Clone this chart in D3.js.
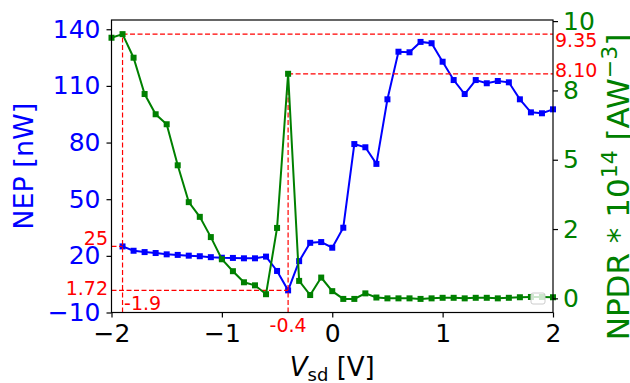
<!DOCTYPE html>
<html>
<head>
<meta charset="utf-8">
<script src="https://cdn.jsdelivr.net/npm/d3@7"></script>
<style>
  body { margin: 0; background: #fff; }
  text { font-family: "DejaVu Sans", sans-serif; }
</style>
</head>
<body>
<div id="chart"></div>
<script>
// NEP (left axis) and NPDR (right axis) vs source-drain voltage

var nepVsd = [-1.9, -1.8, -1.7, -1.6, -1.5, -1.4, -1.3, -1.2, -1.1, -1.0,
  -0.9, -0.8, -0.7, -0.6, -0.5, -0.4, -0.3, -0.2, -0.1, 0.0,
  0.1, 0.2, 0.3, 0.4, 0.5, 0.6, 0.7, 0.8, 0.9, 1.0,
  1.1, 1.2, 1.3, 1.4, 1.5, 1.6, 1.7, 1.8, 1.9, 2.0];
var nepValues = [25, 22.7, 22.0, 21.5, 20.8, 20.5, 20.1, 19.8, 19.3, 19.0,
  18.9, 18.7, 18.7, 19.6, 12.0, 1.72, 17.2, 26.9, 27.3, 24.3,
  34.9, 79.2, 77.5, 68.7, 102.9, 128.1, 127.8, 133.3, 132.6, 122.8,
  113.1, 105.7, 113.1, 111.4, 112.6, 111.9, 102.9, 96.0, 95.5, 97.6];

var npdrVsd = [-2.0, -1.9, -1.8, -1.7, -1.6, -1.5, -1.4, -1.3, -1.2, -1.1, -1.0,
  -0.9, -0.8, -0.7, -0.6, -0.5, -0.4, -0.3, -0.2, -0.1, 0.0,
  0.1, 0.2, 0.3, 0.4, 0.5, 0.6, 0.7, 0.8, 0.9, 1.0,
  1.1, 1.2, 1.3, 1.4, 1.5, 1.6, 1.7, 1.8, 1.9, 2.0];
var npdrValues = [9.40, 9.53, 8.68, 7.37, 6.64, 6.28, 4.80, 3.47, 2.94, 2.21, 1.41,
  0.98, 0.58, 0.47, 0.15, 2.54, 8.10, 0.63, 0.12, 0.75, 0.26,
  -0.02, -0.02, 0.18, 0.03, 0.0, 0.0, 0.0, -0.02, 0.0, 0.02,
  0.02, 0.0, 0.02, 0.02, 0.0, 0.02, 0.04, 0.05, 0.05, 0.04];

var xTicks = [-2, -1, 0, 1, 2];
var leftTicks = [-10, 20, 50, 80, 110, 140];
var rightTicks = [0, 2.5, 5, 7.5, 10];
var rightTickLabels = ["0", "2", "5", "8", "10"];

// marked points: [vsd, label]
var nepMarks = [[-1.9, "25"], [-0.4, "1.72"]];
var npdrMarks = [[-1.9, "9.35"], [-0.4, "8.10"]];

var W = 630, H = 383;
var plotL = 111.5, plotR = 553, plotT = 20, plotB = 312.5;

var svg = d3.select("#chart").append("svg")
  .attr("width", W).attr("height", H);

var x = d3.scaleLinear().domain([-2, 2]).range([plotL, plotR]);
var yL = d3.scaleLinear().domain([-10, 144.9]).range([plotB, plotT]);
var yR = d3.scaleLinear().domain([-0.51, 10.04]).range([plotB, plotT]);

var nep = nepVsd.map(function(v, i) { return {x: v, y: nepValues[i]}; });
var npdr = npdrVsd.map(function(v, i) { return {x: v, y: npdrValues[i]}; });
function nepAt(v) { return nep.find(function(d) { return Math.abs(d.x - v) < 1e-6; }).y; }
function npdrAt(v) { return npdr.find(function(d) { return Math.abs(d.x - v) < 1e-6; }).y; }

// blue NEP line
var lineL = d3.line().x(function(d) { return x(d.x); }).y(function(d) { return yL(d.y); });
svg.append("path").datum(nep)
  .attr("d", lineL).attr("fill", "none")
  .attr("stroke", "blue").attr("stroke-width", 2);
svg.selectAll(".mL").data(nep).enter().append("rect")
  .attr("x", function(d) { return x(d.x) - 3; })
  .attr("y", function(d) { return yL(d.y) - 3; })
  .attr("width", 6).attr("height", 6).attr("fill", "blue");

// red dashed guide lines
var red = svg.append("g")
  .attr("stroke", "red").attr("stroke-width", 1.2)
  .attr("stroke-dasharray", "5,2.5").attr("fill", "none");
nepMarks.forEach(function(m) {
  red.append("line")
    .attr("x1", x(-2)).attr("x2", x(m[0]))
    .attr("y1", yL(nepAt(m[0]))).attr("y2", yL(nepAt(m[0])));
});
npdrMarks.forEach(function(m) {
  var yy = yR(npdrAt(m[0]));
  red.append("line")
    .attr("x1", x(m[0])).attr("x2", x(m[0]))
    .attr("y1", plotB).attr("y2", yy);
  red.append("line")
    .attr("x1", x(m[0])).attr("x2", x(2))
    .attr("y1", yy).attr("y2", yy);
});

// green NPDR line
var lineR = d3.line().x(function(d) { return x(d.x); }).y(function(d) { return yR(d.y); });
svg.append("path").datum(npdr)
  .attr("d", lineR).attr("fill", "none")
  .attr("stroke", "green").attr("stroke-width", 2);
svg.selectAll(".mR").data(npdr).enter().append("rect")
  .attr("x", function(d) { return x(d.x) - 3; })
  .attr("y", function(d) { return yR(d.y) - 3; })
  .attr("width", 6).attr("height", 6).attr("fill", "green");

// empty legend box
svg.append("rect")
  .attr("x", 531).attr("y", 293).attr("width", 14).attr("height", 11)
  .attr("rx", 2).attr("fill", "white").attr("fill-opacity", 0.8)
  .attr("stroke", "#cccccc").attr("stroke-width", 1);

// axes
var fmtTick = d3.format("d");
var gx = svg.append("g").attr("transform", "translate(0," + plotB + ")")
  .call(d3.axisBottom(x).tickValues(xTicks).tickSize(5).tickPadding(7).tickFormat(fmtTick));
gx.selectAll("text").attr("fill", "black").style("font-size", "25px");

var gl = svg.append("g").attr("transform", "translate(" + plotL + ",0)")
  .call(d3.axisLeft(yL).tickValues(leftTicks).tickSize(5).tickPadding(6).tickFormat(fmtTick));
gl.selectAll("text").attr("fill", "blue").style("font-size", "25px");

var gr = svg.append("g").attr("transform", "translate(" + plotR + ",0)")
  .call(d3.axisRight(yR).tickValues(rightTicks).tickSize(5).tickPadding(5)
    .tickFormat(function(d, i) { return rightTickLabels[i]; }));
gr.selectAll("text").attr("fill", "green").style("font-size", "25px");

[gx, gl, gr].forEach(function(g) {
  g.select(".domain").remove();
  g.selectAll("line").attr("stroke", "black").attr("stroke-width", 1.2);
});

svg.append("rect")
  .attr("x", plotL).attr("y", plotT)
  .attr("width", plotR - plotL).attr("height", plotB - plotT)
  .attr("fill", "none").attr("stroke", "black").attr("stroke-width", 1.2);

// red value labels
var lab = svg.append("g").attr("fill", "red").style("font-size", "19px");
lab.append("text").attr("x", x(-2) - 3.5).attr("y", yL(nepAt(-1.9)) - 1.5)
  .attr("text-anchor", "end").text(nepMarks[0][1]);
lab.append("text").attr("x", x(-2) - 3.5).attr("y", yL(nepAt(-0.4)) + 4.5)
  .attr("text-anchor", "end").text(nepMarks[1][1]);
lab.append("text").attr("x", x(-1.9) + 1.5).attr("y", plotB - 2.5)
  .text("-1.9");
lab.append("text").attr("x", x(-0.4)).attr("y", plotB + 19.5)
  .attr("text-anchor", "middle").text("-0.4");
lab.append("text").attr("x", plotR + 2).attr("y", yR(npdrAt(-1.9)) + 13)
  .text(npdrMarks[0][1]);
lab.append("text").attr("x", plotR + 2).attr("y", yR(npdrAt(-0.4)) + 3.5)
  .text(npdrMarks[1][1]);

// axis titles
svg.append("text")
  .attr("transform", "translate(33," + ((plotT + plotB) / 2) + ") rotate(-90)")
  .attr("text-anchor", "middle").attr("fill", "blue").style("font-size", "27px")
  .text("NEP [nW]");

var rt = svg.append("text")
  .attr("transform", "translate(629,187) rotate(-90)")
  .attr("text-anchor", "middle").attr("fill", "green").style("font-size", "31px");
rt.append("tspan").text("NPDR * 10");
rt.append("tspan").attr("dy", -12).style("font-size", "22px").text("14");
rt.append("tspan").attr("dy", 12).text(" [AW");
rt.append("tspan").attr("dy", -12).style("font-size", "22px").text("\u22123");
rt.append("tspan").attr("dy", 12).text("]");

var xt = svg.append("text")
  .attr("x", (plotL + plotR) / 2).attr("y", 376)
  .attr("text-anchor", "middle").attr("fill", "black").style("font-size", "26px");
xt.append("tspan").style("font-style", "italic").text("V");
xt.append("tspan").attr("dy", 5).style("font-size", "18px").text("sd");
xt.append("tspan").attr("dy", -5).text(" [V]");
</script>
</body>
</html>
